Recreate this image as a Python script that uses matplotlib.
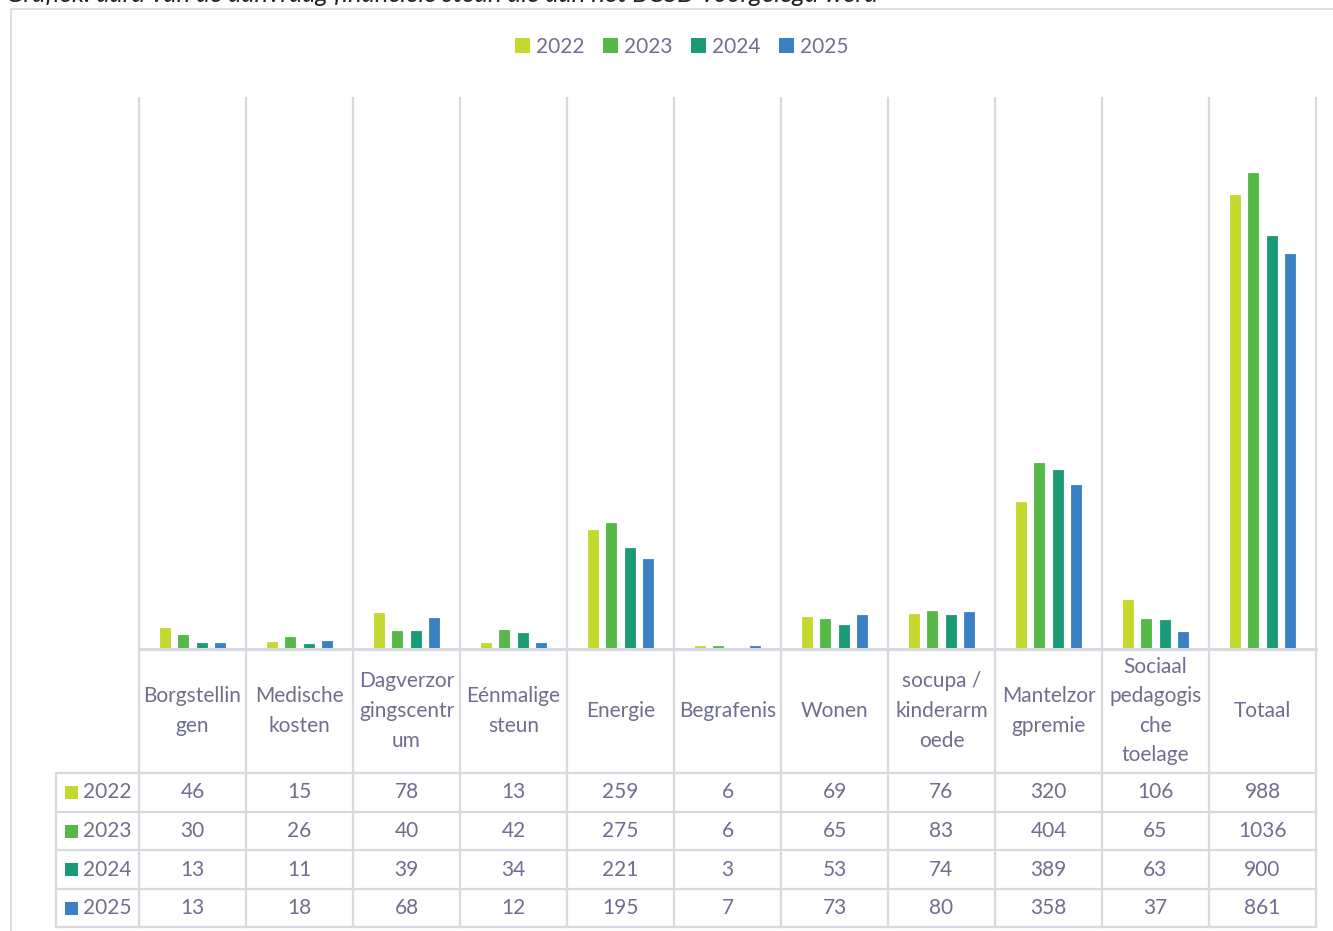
import matplotlib
matplotlib.use("Agg")
import matplotlib.pyplot as plt
from matplotlib.patches import Rectangle, Patch
import matplotlib.transforms as mtransforms

categories = ["Borgstellin\ngen", "Medische\nkosten", "Dagverzor\ngingscentr\num",
              "Eénmalige\nsteun", "Energie", "Begrafenis", "Wonen",
              "socupa /\nkinderarm\noede", "Mantelzor\ngpremie",
              "Sociaal\npedagogis\nche\ntoelage", "Totaal"]
years = ["2022", "2023", "2024", "2025"]
v2022 = [46, 15, 78, 13, 259, 6, 69, 76, 320, 106, 988]
v2023 = [30, 26, 40, 42, 275, 6, 65, 83, 404, 65, 1036]
v2024 = [13, 11, 39, 34, 221, 3, 53, 74, 389, 63, 900]
v2025 = [13, 18, 68, 12, 195, 7, 73, 80, 358, 37, 861]
series = [v2022, v2023, v2024, v2025]
colors = ["#C4D82E", "#56B947", "#1B9B75", "#3A81C4"]
title = "Grafiek: aard van de aanvraag financiële steun die aan het BCSD voorgelegd werd"

plt.rcParams['font.family'] = ['Lato', 'DejaVu Sans']
TXT = "#6E6E8E"
GRID = "#D9D9E2"
FS = 15

W, H = 1333, 931
fig = plt.figure(figsize=(W / 100, H / 100), dpi=100)

def fx(px):
    return px / W

def fy(py):
    return 1 - py / H

# outer chart border
fig.patches.append(Rectangle((fx(11), fy(1000)), fx(1400) - fx(11), fy(9) - fy(1000),
                             transform=fig.transFigure, fill=False,
                             edgecolor="#D9D9DE", linewidth=1.2, zorder=0))

# title (cut off at top, as in the source screenshot)
fig.text(fx(6), fy(2), title, fontsize=18.5, style='italic', color="#222222",
         ha='left', va='baseline')

left, right, top, bottom = 139, 1316, 98, 649
ax = fig.add_axes([fx(left), fy(bottom), fx(right) - fx(left), fy(top) - fy(bottom)])
n = len(categories)
ax.set_xlim(0, n)
ax.set_ylim(0, 1200)
for s in ax.spines.values():
    s.set_visible(False)
ax.set_xticks([])
ax.set_yticks([])

step = 0.171
bw = 0.094
for i, (vals, c) in enumerate(zip(series, colors)):
    xs = [k + 0.5 + (i - 1.5) * step for k in range(n)]
    ax.bar(xs, vals, width=bw, color=c, edgecolor=c, linewidth=0.6, zorder=3)

# table geometry in axes coordinates (x: data, y: axes fraction)
trans = mtransforms.blended_transform_factory(ax.transData, ax.transAxes)
ph = bottom - top
cw = (right - left) / n

def ay(py):
    return (bottom - py) / ph

lab_left = (56 - left) / cw
row_edges = [773, 812, 850, 889, 927]
lw = 1.6

# vertical grid lines through plot and table
for k in range(n + 1):
    ax.plot([k, k], [ay(top), ay(927)], color=GRID, lw=lw, transform=trans,
            clip_on=False, zorder=1)
ax.plot([lab_left, lab_left], [ay(773), ay(927)], color=GRID, lw=lw,
        transform=trans, clip_on=False, zorder=1)
# horizontal lines
ax.plot([0, n], [0, 0], color=GRID, lw=2.2, transform=trans, clip_on=False, zorder=4)
for ry in row_edges:
    ax.plot([lab_left, n], [ay(ry), ay(ry)], color=GRID, lw=lw, transform=trans,
            clip_on=False, zorder=1)

# category labels
for k, cat in enumerate(categories):
    ax.text(k + 0.5, ay((bottom + 773) / 2), cat, transform=trans, ha='center',
            va='center', fontsize=FS, color=TXT, linespacing=1.6, clip_on=False)

# data rows
for r, (yr, vals, c) in enumerate(zip(years, series, colors)):
    yc = ay((row_edges[r] + row_edges[r + 1]) / 2)
    for k, v in enumerate(vals):
        ax.text(k + 0.5, yc, str(v), transform=trans, ha='center', va='center',
                fontsize=FS, color=TXT, clip_on=False)
    kx0 = (65 - left) / cw
    kw = 13 / cw
    kh = 13 / ph
    ax.add_patch(Rectangle((kx0, yc - kh / 2), kw, kh, transform=trans,
                           facecolor=c, edgecolor='none', clip_on=False))
    ax.text((83 - left) / cw, yc, yr, transform=trans,
            ha='left', va='center', fontsize=FS, color=TXT, clip_on=False)

# legend
handles = [Patch(facecolor=c, edgecolor='none') for c in colors]
fig.legend(handles, years, loc='center', bbox_to_anchor=(fx(682), fy(47)),
           ncol=4, frameon=False, fontsize=FS, labelcolor=TXT,
           handlelength=0.7, handleheight=0.7, handletextpad=0.3,
           columnspacing=0.9)

fig.savefig("out.png", dpi=100, facecolor="white")
